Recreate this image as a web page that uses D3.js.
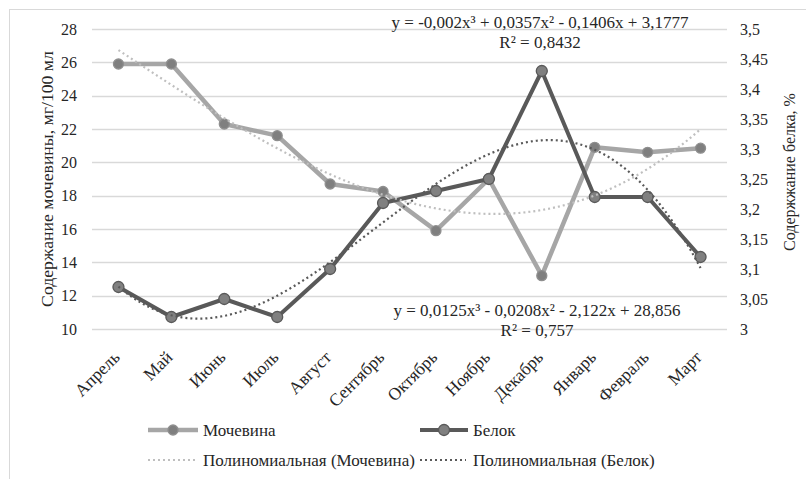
<!DOCTYPE html>
<html>
<head>
<meta charset="utf-8">
<script src="https://cdn.jsdelivr.net/npm/d3@7"></script>
<style>
  html, body { margin: 0; padding: 0; background: #fff; }
  svg { display: block; }
  svg text { font-family: "Liberation Serif", "Times New Roman", Times, Tinos, "DejaVu Serif", serif; }
</style>
</head>
<body>
<svg id="chart" width="806" height="479"></svg>
<script>
// Months of the observation year
const months = ["Апрель", "Май", "Июнь", "Июль", "Август", "Сентябрь",
                "Октябрь", "Ноябрь", "Декабрь", "Январь", "Февраль", "Март"];

// Urea content, mg/100 ml (left axis)
const urea = [25.9, 25.9, 22.3, 21.6, 18.7, 18.25, 15.9, 19.0, 13.2, 20.9, 20.6, 20.85];

// Protein content, % (right axis)
const protein = [3.07, 3.02, 3.05, 3.02, 3.10, 3.21, 3.23, 3.25, 3.43, 3.22, 3.22, 3.12];

// Axis ticks
const leftTicks = [10, 12, 14, 16, 18, 20, 22, 24, 26, 28];
const rightTicks = [3, 3.05, 3.1, 3.15, 3.2, 3.25, 3.3, 3.35, 3.4, 3.45, 3.5];

// Series and trendline names
const seriesNames = ["Мочевина", "Белок"];
const trendNames = ["Полиномиальная (Мочевина)", "Полиномиальная (Белок)"];

// Trendline equations as displayed
const ureaEquation = ["y = 0,0125x³ - 0,0208x² - 2,122x + 28,856", "R² = 0,757"];
const proteinEquation = ["y = -0,002x³ + 0,0357x² - 0,1406x + 3,1777", "R² = 0,8432"];

const axisTitles = ["Содержание мочевины, мг/100 мл", "Содержжание белка, %"];

// ---- layout ----
const plot = { left: 92, right: 727, top: 29, bottom: 329 };
const ruFmt = d3.formatLocale({ decimal: ",", thousands: " ", grouping: [3], currency: ["", ""] }).format(".2~f");
const FONT = '"Liberation Serif", "Times New Roman", Times, Tinos, "DejaVu Serif", serif';

const svg = d3.select("#chart");
const textColor = "#262626";

// outer chart frame
svg.append("rect")
  .attr("x", 9.5).attr("y", 9.5).attr("width", 900).attr("height", 600)
  .attr("fill", "#fff").attr("stroke", "#d9d9d9").attr("stroke-width", 1);

const x = d3.scaleBand().domain(months).range([plot.left, plot.right]);
const cx = d => x(d) + x.bandwidth() / 2;
const yL = d3.scaleLinear().domain([10, 28]).range([plot.bottom, plot.top]);
const yR = d3.scaleLinear().domain([3, 3.5]).range([plot.bottom, plot.top]);
// continuous month index (1..12) for trendlines
const xt = d3.scaleLinear().domain([1, 12]).range([cx(months[0]), cx(months[11])]);

// gridlines from the primary axis
svg.append("g").selectAll("line").data(leftTicks).join("line")
  .attr("x1", plot.left).attr("x2", plot.right)
  .attr("y1", d => Math.round(yL(d)) + 0.5).attr("y2", d => Math.round(yL(d)) + 0.5)
  .attr("stroke", "#d9d9d9").attr("stroke-width", 1.3);

// left axis labels
const gL = svg.append("g")
  .attr("transform", `translate(${plot.left - 15},0)`)
  .call(d3.axisLeft(yL).tickValues(leftTicks).tickSize(0).tickPadding(0));
gL.attr("font-family", FONT).select(".domain").remove();
gL.selectAll("text").attr("font-size", 16).attr("fill", textColor);

// right axis labels
const gR = svg.append("g")
  .attr("transform", `translate(${plot.right + 13},0)`)
  .call(d3.axisRight(yR).tickValues(rightTicks).tickFormat(ruFmt).tickSize(0).tickPadding(0));
gR.attr("font-family", FONT).select(".domain").remove();
gR.selectAll("text").attr("font-size", 16).attr("fill", textColor);

// category labels, rotated
svg.append("g").selectAll("text").data(months).join("text")
  .attr("transform", d => `translate(${cx(d) - 2},${plot.bottom + 25}) rotate(-45)`)
  .attr("text-anchor", "end").attr("dy", "0.35em")
  .attr("font-size", 17.5).attr("fill", textColor)
  .text(d => d);

// axis titles
svg.append("text")
  .attr("transform", `translate(47,${(plot.top + plot.bottom) / 2}) rotate(-90)`)
  .attr("text-anchor", "middle").attr("dy", "0.35em")
  .attr("font-size", 17.7).attr("fill", textColor)
  .text(axisTitles[0]);
svg.append("text")
  .attr("transform", `translate(789,${(plot.top + plot.bottom) / 2 - 7}) rotate(-90)`)
  .attr("text-anchor", "middle").attr("dy", "0.35em")
  .attr("font-size", 16).attr("fill", textColor)
  .text(axisTitles[1]);

// least-squares cubic fit over month index 1..n
function cubicFit(ys) {
  const n = 4;
  const A = Array.from({ length: n }, () => new Array(n).fill(0));
  const b = new Array(n).fill(0);
  ys.forEach((yv, i) => {
    const xv = i + 1;
    for (let r = 0; r < n; r++) {
      b[r] += yv * Math.pow(xv, r);
      for (let c = 0; c < n; c++) A[r][c] += Math.pow(xv, r + c);
    }
  });
  for (let p = 0; p < n; p++) {
    let m = p;
    for (let r = p + 1; r < n; r++) if (Math.abs(A[r][p]) > Math.abs(A[m][p])) m = r;
    [A[p], A[m]] = [A[m], A[p]]; [b[p], b[m]] = [b[m], b[p]];
    for (let r = p + 1; r < n; r++) {
      const f = A[r][p] / A[p][p];
      for (let c = p; c < n; c++) A[r][c] -= f * A[p][c];
      b[r] -= f * b[p];
    }
  }
  const coef = new Array(n).fill(0);
  for (let r = n - 1; r >= 0; r--) {
    let s = b[r];
    for (let c = r + 1; c < n; c++) s -= A[r][c] * coef[c];
    coef[r] = s / A[r][r];
  }
  return t => coef[0] + coef[1] * t + coef[2] * t * t + coef[3] * t * t * t;
}
const steps = d3.range(1, 12.001, 0.1);

// series styles
const ureaStyle = { line: "#a6a6a6", width: 4.5, fill: "#7f7f7f", ring: "#8f8f8f", r: 5 };
const protStyle = { line: "#595959", width: 4, fill: "#808080", ring: "#595959", r: 5.5 };
const ureaTrendColor = "#bfbfbf";
const protTrendColor = "#595959";

function drawSeries(values, y, st) {
  const g = svg.append("g");
  g.append("path").datum(values)
    .attr("fill", "none").attr("stroke", st.line).attr("stroke-width", st.width)
    .attr("stroke-linejoin", "round")
    .attr("d", d3.line().x((d, i) => cx(months[i])).y(d => y(d)));
  g.selectAll("circle").data(values).join("circle")
    .attr("cx", (d, i) => cx(months[i])).attr("cy", d => y(d)).attr("r", st.r)
    .attr("fill", st.fill).attr("stroke", st.ring).attr("stroke-width", 1.3);
}

function drawTrend(values, y, color) {
  const f = cubicFit(values);
  svg.append("path").datum(steps)
    .attr("fill", "none").attr("stroke", color).attr("stroke-width", 2.2)
    .attr("stroke-dasharray", "2,3")
    .attr("d", d3.line().x(t => xt(t)).y(t => y(f(t))));
}

drawSeries(urea, yL, ureaStyle);
drawSeries(protein, yR, protStyle);
drawTrend(urea, yL, ureaTrendColor);
drawTrend(protein, yR, protTrendColor);

// trendline equations
function drawEquation(lines, xc, y0) {
  lines.forEach((t, i) => {
    svg.append("text")
      .attr("x", xc).attr("y", y0 + i * 20).attr("dy", "0.35em")
      .attr("text-anchor", "middle").attr("font-size", 17).attr("fill", textColor)
      .text(t);
  });
}
drawEquation(proteinEquation, 540, 22);
drawEquation(ureaEquation, 537, 310);

// legend
const legend = svg.append("g").attr("font-size", 17).attr("fill", textColor);
const legendItems = [
  { x: 148, tx: 203, y: 430, w: 50, name: seriesNames[0], st: ureaStyle },
  { x: 420, tx: 473, y: 430, w: 48, name: seriesNames[1], st: protStyle },
  { x: 148, tx: 203, y: 460, w: 48, name: trendNames[0], trend: ureaTrendColor },
  { x: 420, tx: 473, y: 460, w: 46, name: trendNames[1], trend: protTrendColor }
];
legendItems.forEach(it => {
  if (it.st) {
    legend.append("line").attr("x1", it.x).attr("x2", it.x + it.w).attr("y1", it.y).attr("y2", it.y)
      .attr("stroke", it.st.line).attr("stroke-width", it.st.width);
    legend.append("circle").attr("cx", it.x + it.w / 2).attr("cy", it.y).attr("r", it.st.r)
      .attr("fill", it.st.fill).attr("stroke", it.st.ring).attr("stroke-width", 1.3);
  } else {
    legend.append("line").attr("x1", it.x).attr("x2", it.x + it.w).attr("y1", it.y).attr("y2", it.y)
      .attr("stroke", it.trend).attr("stroke-width", 2.2).attr("stroke-dasharray", "2,3");
  }
  legend.append("text").attr("x", it.tx).attr("y", it.y).attr("dy", "0.35em")
    .attr("fill", textColor).text(it.name);
});
</script>
</body>
</html>
